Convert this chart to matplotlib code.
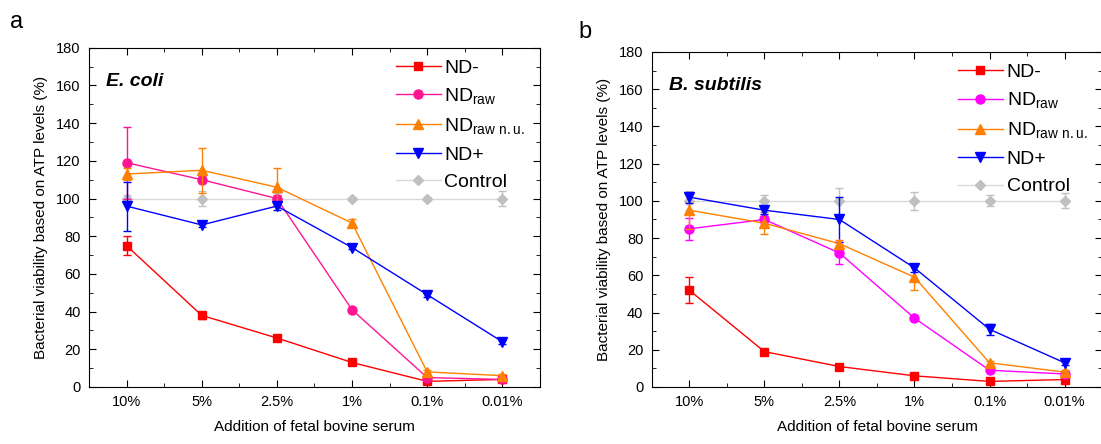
import matplotlib.pyplot as plt
from matplotlib.ticker import MultipleLocator

plt.rcParams['font.family'] = ['Liberation Sans', 'DejaVu Sans']
plt.rcParams['mathtext.fontset'] = 'custom'
plt.rcParams['mathtext.rm'] = 'Liberation Sans'

categories = ['10%', '5%', '2.5%', '1%', '0.1%', '0.01%']
series_names = ['ND-', 'ND$_{\\mathregular{raw}}$', 'ND$_{\\mathregular{raw\\ n.u.}}$', 'ND+', 'Control']

# E. coli
ecoli_vals = [
    [75, 38, 26, 13, 3, 4],
    [119, 110, 100, 41, 5, 4],
    [113, 115, 106, 87, 8, 6],
    [96, 86, 96, 74, 49, 24],
    [100, 100, 100, 100, 100, 100],
]
ecoli_err = [
    [5, 2, 1, 1, 1, 1],
    [19, 2, 2, 1, 1, 1],
    [3, 12, 10, 2, 1, 1],
    [13, 1, 2, 1, 1, 1],
    [2, 4, 3, 1, 1, 4],
]

# B. subtilis
bsub_vals = [
    [52, 19, 11, 6, 3, 4],
    [85, 90, 72, 37, 9, 7],
    [95, 88, 77, 59, 13, 8],
    [102, 95, 90, 64, 31, 13],
    [100, 100, 100, 100, 100, 100],
]
bsub_err = [
    [7, 1, 1, 1, 1, 1],
    [6, 2, 6, 1, 1, 1],
    [10, 6, 2, 7, 1, 1],
    [3, 2, 12, 2, 3, 1],
    [5, 3, 7, 5, 3, 4],
]

markers = ['s', 'o', '^', 'v', 'D']
msizes = [6, 6.5, 7, 7, 5]
colors_a = ['#ff0000', '#ff1493', '#ff8000', '#0000ff', '#c0c0c0']
colors_b = ['#ff0000', '#ff00ff', '#ff8000', '#0000ff', '#c0c0c0']

fig = plt.figure(figsize=(11.01, 4.44), dpi=100)
ax1 = fig.add_axes([0.0808, 0.1284, 0.4096, 0.764])
ax2 = fig.add_axes([0.592, 0.1284, 0.409, 0.7545])

x = list(range(len(categories)))


def draw(ax, vals, errs, colors, title):
    handles = []
    for i in range(len(vals)):
        c = ax.errorbar(x, vals[i], yerr=errs[i], color=colors[i], marker=markers[i],
                        markersize=msizes[i], linewidth=1, elinewidth=1, capsize=3,
                        label=series_names[i], zorder=2 if i == 4 else 3 + i * 0.1)
        if i == 4:
            c[0].set_color('#d8d8d8')
            c[0].set_markerfacecolor('#c0c0c0')
            c[0].set_markeredgecolor('#c0c0c0')
        handles.append(c[0])
    ax.set_xlim(-0.5, 5.5)
    ax.set_ylim(0, 180)
    ax.set_xticks(x)
    ax.set_xticklabels(categories, fontsize=10.5)
    ax.xaxis.set_minor_locator(MultipleLocator(0.5))
    ax.yaxis.set_major_locator(MultipleLocator(20))
    ax.yaxis.set_minor_locator(MultipleLocator(10))
    ax.tick_params(which='both', direction='in', top=True, right=True, labelsize=10.5)
    ax.tick_params(which='major', length=5, pad=6)
    ax.tick_params(which='minor', length=3)
    ax.set_xlabel('Addition of fetal bovine serum', fontsize=11, labelpad=8)
    ax.set_ylabel('Bacterial viability based on ATP levels (%)', fontsize=11, labelpad=6)
    ax.text(0.038, 0.886, title, transform=ax.transAxes, fontsize=14,
            fontweight='bold', fontstyle='italic')
    ax.legend(handles, series_names, loc='upper right', frameon=False, fontsize=14,
              handlelength=2.3, handletextpad=0.2, labelspacing=0.5,
              borderaxespad=0.0, bbox_to_anchor=(0.985, 0.99))


draw(ax1, ecoli_vals, ecoli_err, colors_a, 'E. coli')
draw(ax2, bsub_vals, bsub_err, colors_b, 'B. subtilis')

fig.text(0.009, 0.937, 'a', fontsize=17)
fig.text(0.525, 0.914, 'b', fontsize=17)

fig.savefig('out.png', dpi=100)
